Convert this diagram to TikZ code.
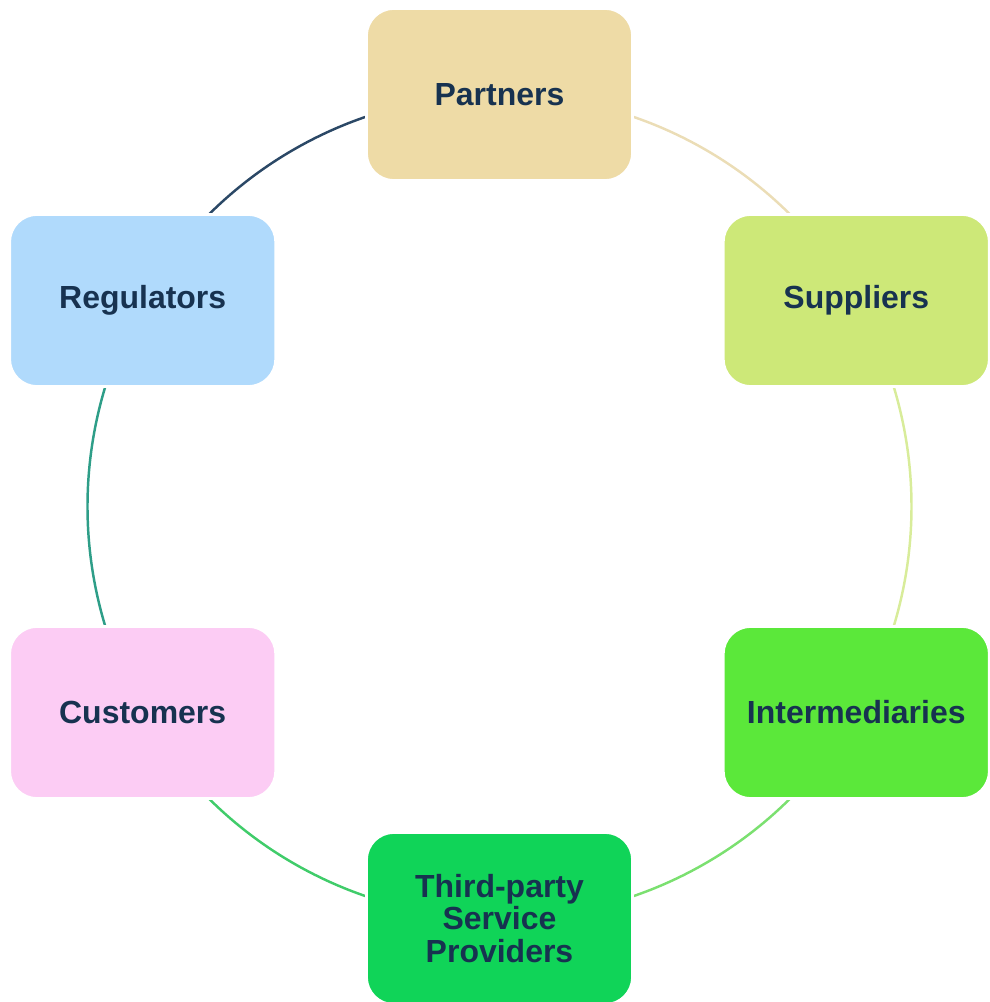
\documentclass[tikz,border=0pt]{standalone}
\usepackage{fontspec}
\setmainfont{Liberation Sans}
\usetikzlibrary{backgrounds}
\definecolor{txtblue}{HTML}{173250}
\definecolor{partnerfill}{HTML}{EEDBA6}
\definecolor{regfill}{HTML}{B0DAFC}
\definecolor{supfill}{HTML}{CDE878}
\definecolor{custfill}{HTML}{FCCCF4}
\definecolor{interfill}{HTML}{5BE83A}
\definecolor{thirdfill}{HTML}{10D458}
\definecolor{arcnavy}{HTML}{2B4866}
\definecolor{arcbeige}{HTML}{EBDDB6}
\definecolor{arclime}{HTML}{D8EC9A}
\definecolor{arclight}{HTML}{7BE070}
\definecolor{arcgreen}{HTML}{40CC6A}
\definecolor{arcteal}{HTML}{2E9E88}
\tikzset{
  party/.style={draw=white, line width=1.5pt, rounded corners=0.55cm,
    minimum width=5.32cm, minimum height=3.44cm, align=center,
    text=txtblue, font=\fontsize{18.2}{18.5}\selectfont\bfseries},
  ring/.style={line width=1.4pt}
}
\begin{document}
\begin{tikzpicture}
\useasboundingbox (-9.99,-9.91) rectangle (9.79,10.13);
\node [party, fill=partnerfill] (partners) at (90:8.24) {Partners};
\node [party, fill=supfill] (suppliers) at (30:8.24) {Suppliers};
\node [party, fill=interfill] (inter) at (-30:8.24) {Intermediaries};
\node [party, fill=thirdfill] (third) at (-90:8.24) {Third-party\\Service\\Providers};
\node [party, fill=custfill] (customers) at (210:8.24) {Customers};
\node [party, fill=regfill] (regulators) at (150:8.24) {Regulators};
\begin{scope}[on background layer]
\draw [ring, draw=arcnavy] (regulators.center) arc [start angle=150, end angle=90, radius=8.24];
\draw [ring, draw=arcbeige] (partners.center) arc [start angle=90, end angle=30, radius=8.24];
\draw [ring, draw=arclime] (suppliers.center) arc [start angle=30, end angle=-30, radius=8.24];
\draw [ring, draw=arclight] (inter.center) arc [start angle=-30, end angle=-90, radius=8.24];
\draw [ring, draw=arcgreen] (third.center) arc [start angle=270, end angle=210, radius=8.24];
\draw [ring, draw=arcteal] (customers.center) arc [start angle=210, end angle=150, radius=8.24];
\end{scope}
\end{tikzpicture}
\end{document}
